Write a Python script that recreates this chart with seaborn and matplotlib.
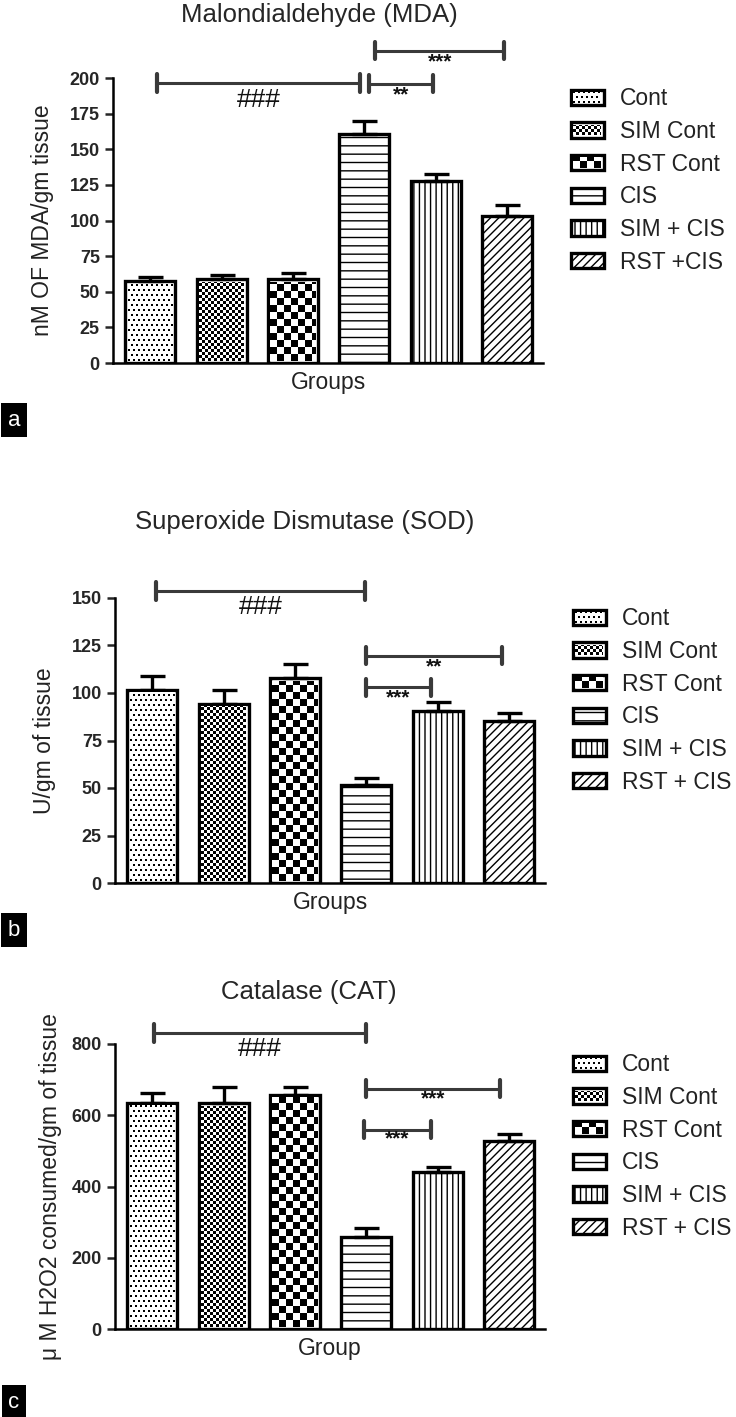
import numpy as np
import pandas as pd
import seaborn as sns
import matplotlib.pyplot as plt
from matplotlib.patches import Patch

# -----------------------------
# Data
# -----------------------------

groups = ['Cont', 'SIM Cont', 'RST Cont', 'CIS', 'SIM + CIS', 'RST + CIS']
legend_a = ['Cont', 'SIM Cont', 'RST Cont', 'CIS', 'SIM + CIS', 'RST +CIS']

mda_mean = [57.5, 58.6, 58.6, 160.7, 127.6, 103.5]
mda_sem = [3.2, 3.0, 4.4, 9.3, 5.1, 7.7]

sod_mean = [101.6, 94.3, 107.8, 51.5, 90.7, 85.5]
sod_sem = [7.4, 7.4, 7.6, 4.0, 4.4, 3.8]

cat_mean = [635, 633, 657, 259, 442, 527]
cat_sem = [27, 45, 23, 25, 14, 19]

# significance brackets: (from, to, height, label, label height)
mda_sig = [(0.10, 2.94, 196.5, '###', 184.5),
           (3.06, 3.96, 196.0, '**', 188.0),
           (3.15, 4.96, 219.0, '***', 211.0)]
sod_sig = [(0.06, 2.98, 153.7, '###', 145.0),
           (3.00, 4.90, 119.5, '**', 114.0),
           (2.99, 3.90, 103.0, '***', 97.4)]
cat_sig = [(0.02, 3.00, 831, '###', 786),
           (3.00, 4.87, 674, '***', 646),
           (2.97, 3.90, 559, '***', 533)]

# fill patterns: 'img:' ones are drawn as pixel textures
fills = ['img:dots', 'img:fine', 'img:coarse', '--', '|||', '////']

sns.set_style('white')
plt.rcParams['font.family'] = ['Liberation Sans', 'DejaVu Sans']
plt.rcParams['hatch.linewidth'] = 1.0


def texture(kind, h, w):
    I, J = np.mgrid[0:h, 0:w]
    if kind == 'dots':
        return ((I % 5 < 2) & ((J + (I // 5 % 2) * 2) % 5 < 2)).astype(float)
    if kind == 'fine':
        return ((I // 3 + J // 3) % 2).astype(float)
    return ((I // 7 + J // 7) % 2).astype(float)


def paint(fig, bb, kind):
    x0 = int(np.ceil(bb.x0 + 2))
    y0 = int(np.ceil(bb.y0 + 2))
    x1 = int(np.floor(bb.x1 - 2))
    y1 = int(np.floor(bb.y1 - 2))
    arr = texture(kind, y1 - y0, x1 - x0)
    fig.figimage(arr, xo=x0, yo=y0, origin='lower', cmap='gray_r',
                 vmin=0, vmax=1, zorder=3)


def panel(ax, means, sems, ymax, step, title, tx, ty, ylab, ylx, xlab,
          labels, sig):
    df = pd.DataFrame({'group': groups, 'value': means})
    sns.barplot(data=df, x='group', y='value', hue='group',
                palette=['white'] * 6, edgecolor='black', linewidth=2.4,
                width=0.7, errorbar=None, legend=False, ax=ax)

    for p, f in zip(ax.patches, fills):
        if not f.startswith('img:'):
            p.set_hatch(f)

    xs = [p.get_x() + p.get_width() / 2 for p in ax.patches]
    ax.errorbar(xs, means, yerr=[np.zeros(len(sems)), sems], fmt='none',
                ecolor='black', elinewidth=2.4, capsize=9, capthick=2.4,
                zorder=1)

    ax.set_xlim(-0.52, 5.5)
    ax.set_ylim(0, ymax)
    ax.set_yticks(np.arange(0, ymax + 1, step))
    ax.set_yticklabels([str(int(v)) for v in np.arange(0, ymax + 1, step)],
                       fontweight='bold')
    ax.tick_params(axis='y', length=6, width=1.8, labelsize=13, pad=3.5,
                   direction='out', left=True)
    ax.tick_params(axis='x', length=0, labelbottom=False)
    ax.set_xlabel('')
    ax.set_ylabel('')
    sns.despine(ax=ax)
    for s in ['left', 'bottom']:
        ax.spines[s].set_linewidth(1.8)
        ax.spines[s].set_color('black')

    ax.text(tx, ty, title, transform=ax.transAxes, ha='center',
            va='center', fontsize=18.5)
    ax.text(ylx, 0.5, ylab, transform=ax.transAxes, rotation=90,
            ha='center', va='center', fontsize=16.5, color='#222222')
    ax.text(0.5, -0.068, xlab, transform=ax.transAxes, ha='center',
            va='center', fontsize=16.5, color='#222222')

    cap = ymax * 0.03
    for x1, x2, y, lab, ly in sig:
        ax.plot([x1, x2], [y, y], color='#3a3a3a', lw=2.2, clip_on=False)
        for xe in (x1, x2):
            ax.plot([xe, xe], [y - cap, y + cap], color='#3a3a3a', lw=3,
                    clip_on=False)
        hashes = lab == '###'
        ax.text((x1 + x2) / 2, ly, lab, ha='center', va='center',
                fontsize=19 if hashes else 15,
                fontweight='normal' if hashes else 'bold',
                color='#111111', clip_on=False)

    handles = [Patch(facecolor='white', edgecolor='black', linewidth=2.4,
                     hatch=None if f.startswith('img:') else f)
               for f in fills]
    leg = ax.legend(handles, labels, loc='upper left',
                    bbox_to_anchor=(1.065, 0.967), frameon=False,
                    fontsize=16.5, handlelength=1.43, handleheight=0.65,
                    handletextpad=0.7, labelspacing=0.42, borderpad=0,
                    borderaxespad=0)
    for t in leg.get_texts():
        t.set_color('#222222')
    return leg


fig = plt.figure(figsize=(7.36, 14.17), dpi=100)
W, H = 736, 1417
ax_a = fig.add_axes([113 / W, 1 - 363 / H, 430 / W, 285 / H])
ax_b = fig.add_axes([115 / W, 1 - 883 / H, 430 / W, 285 / H])
ax_c = fig.add_axes([115 / W, 1 - 1329 / H, 430 / W, 285 / H])

leg_a = panel(ax_a, mda_mean, mda_sem, 200, 25, 'Malondialdehyde (MDA)',
              0.48, 1.221, 'nM OF MDA/gm tissue', -0.163, 'Groups',
              legend_a, mda_sig)
leg_b = panel(ax_b, sod_mean, sod_sem, 150, 25, 'Superoxide Dismutase (SOD)',
              0.44, 1.267, 'U/gm of tissue', -0.163, 'Groups',
              groups, sod_sig)
leg_c = panel(ax_c, cat_mean, cat_sem, 800, 200, 'Catalase (CAT)',
              0.45, 1.182, 'μ M H2O2 consumed/gm of tissue', -0.151, 'Group',
              groups, cat_sig)

# panel letters
for letter, ypix in [('a', 420), ('b', 930), ('c', 1402)]:
    fig.text(14 / W, 1 - ypix / H, letter, color='white', fontsize=16,
             ha='center', va='center',
             bbox=dict(facecolor='black', edgecolor='none',
                       boxstyle='square,pad=0.3'))

# textures for the patterned bars and legend boxes
fig.canvas.draw()
for ax, leg in [(ax_a, leg_a), (ax_b, leg_b), (ax_c, leg_c)]:
    for p, f, h in zip(ax.patches, fills, leg.legend_handles):
        if f.startswith('img:'):
            paint(fig, p.get_window_extent(), f[4:])
            paint(fig, h.get_window_extent(), f[4:])

fig.savefig('out.png', dpi=100)
